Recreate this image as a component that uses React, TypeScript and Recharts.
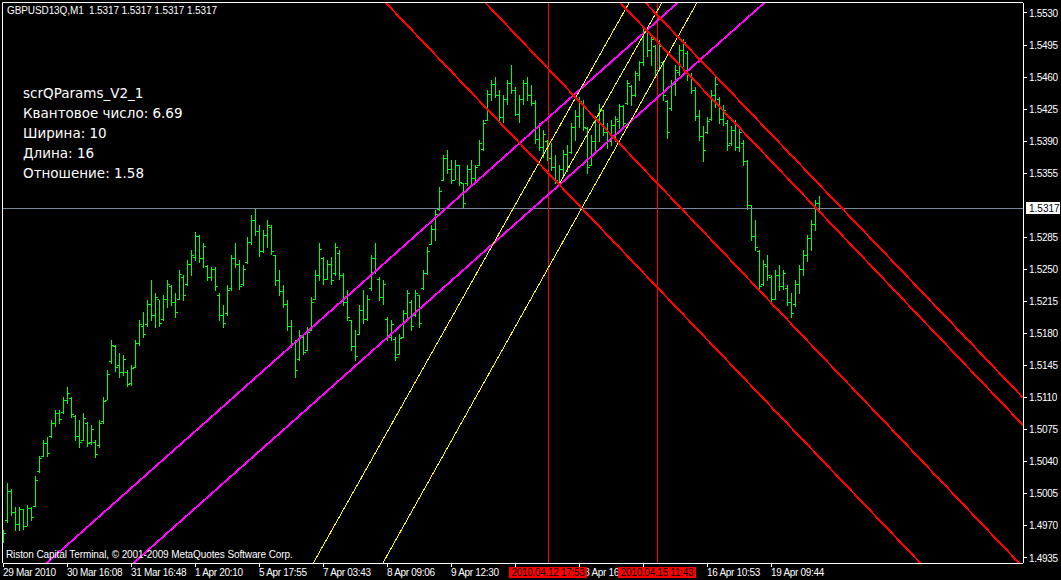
import { ComposedChart, Bar, XAxis, YAxis, ReferenceLine } from 'recharts';

// GBPUSD13Q M1 bars (index 0 = 29 Mar 2010)
const opens = [
  1.4955, 1.4976, 1.5008, 1.4985, 1.4972, 1.4988, 1.4970, 1.4990, 1.4992, 1.5030,
  1.5046, 1.5060, 1.5068, 1.5082, 1.5093, 1.5094, 1.5108, 1.5110, 1.5090, 1.5068,
  1.5064, 1.5082, 1.5062, 1.5062, 1.5058, 1.5084, 1.5108, 1.5150, 1.5166, 1.5146,
  1.5138, 1.5138, 1.5126, 1.5144, 1.5170, 1.5188, 1.5190, 1.5212, 1.5200, 1.5218,
  1.5196, 1.5218, 1.5232, 1.5214, 1.5218, 1.5242, 1.5234, 1.5256, 1.5264, 1.5286,
  1.5262, 1.5254, 1.5242, 1.5250, 1.5222, 1.5200, 1.5202, 1.5230, 1.5262, 1.5256,
  1.5234, 1.5258, 1.5280, 1.5304, 1.5292, 1.5270, 1.5288, 1.5296, 1.5266, 1.5238,
  1.5226, 1.5212, 1.5188, 1.5170, 1.5152, 1.5176, 1.5162, 1.5184, 1.5218, 1.5244,
  1.5262, 1.5240, 1.5256, 1.5246, 1.5268, 1.5244, 1.5215, 1.5195, 1.5166, 1.5180,
  1.5206, 1.5196, 1.5230, 1.5262, 1.5240, 1.5220, 1.5196, 1.5176, 1.5174, 1.5158,
  1.5176, 1.5202, 1.5215, 1.5200, 1.5222, 1.5230, 1.5246, 1.5278, 1.5294, 1.5316,
  1.5348, 1.5372, 1.5360, 1.5348, 1.5364, 1.5344, 1.5344, 1.5360, 1.5350, 1.5364,
  1.5382, 1.5413, 1.5442, 1.5452, 1.5440, 1.5416, 1.5436, 1.5454, 1.5446, 1.5420,
  1.5436, 1.5454, 1.5440, 1.5432, 1.5392, 1.5384, 1.5390, 1.5372, 1.5362, 1.5346,
  1.5360, 1.5376, 1.5378, 1.5406, 1.5418, 1.5432, 1.5404, 1.5364, 1.5390, 1.5414,
  1.5424, 1.5400, 1.5390, 1.5408, 1.5412, 1.5428, 1.5432, 1.5450, 1.5440, 1.5462,
  1.5476, 1.5510, 1.5490, 1.5494, 1.5468, 1.5476, 1.5434, 1.5426, 1.5452, 1.5466,
  1.5490, 1.5486, 1.5462, 1.5446, 1.5418, 1.5396, 1.5400, 1.5414, 1.5440, 1.5436,
  1.5414, 1.5410, 1.5388, 1.5402, 1.5384, 1.5388, 1.5368, 1.5320, 1.5286, 1.5270,
  1.5234, 1.5254, 1.5242, 1.5218, 1.5244, 1.5232, 1.5230, 1.5214, 1.5212, 1.5234,
  1.5250, 1.5266, 1.5284, 1.5300, 1.5322,
];

const highs = [
  1.4966, 1.5017, 1.5010, 1.4991, 1.4991, 1.4988, 1.4993, 1.4991, 1.5024, 1.5046,
  1.5064, 1.5067, 1.5086, 1.5097, 1.5097, 1.5111, 1.5122, 1.5111, 1.5091, 1.5086,
  1.5093, 1.5083, 1.5080, 1.5064, 1.5086, 1.5111, 1.5140, 1.5173, 1.5168, 1.5159,
  1.5157, 1.5140, 1.5146, 1.5173, 1.5195, 1.5203, 1.5217, 1.5239, 1.5224, 1.5217,
  1.5222, 1.5239, 1.5233, 1.5224, 1.5249, 1.5244, 1.5260, 1.5271, 1.5291, 1.5288,
  1.5279, 1.5255, 1.5253, 1.5253, 1.5224, 1.5211, 1.5233, 1.5266, 1.5279, 1.5260,
  1.5255, 1.5285, 1.5309, 1.5317, 1.5298, 1.5293, 1.5304, 1.5298, 1.5266, 1.5249,
  1.5233, 1.5217, 1.5195, 1.5173, 1.5184, 1.5179, 1.5187, 1.5220, 1.5249, 1.5279,
  1.5264, 1.5260, 1.5264, 1.5279, 1.5271, 1.5246, 1.5228, 1.5195, 1.5184, 1.5211,
  1.5228, 1.5222, 1.5266, 1.5279, 1.5242, 1.5239, 1.5198, 1.5195, 1.5176, 1.5179,
  1.5206, 1.5228, 1.5217, 1.5228, 1.5222, 1.5249, 1.5274, 1.5298, 1.5315, 1.5340,
  1.5375, 1.5380, 1.5369, 1.5369, 1.5364, 1.5344, 1.5364, 1.5369, 1.5364, 1.5391,
  1.5413, 1.5446, 1.5457, 1.5460, 1.5446, 1.5440, 1.5457, 1.5473, 1.5449, 1.5440,
  1.5457, 1.5460, 1.5451, 1.5435, 1.5410, 1.5402, 1.5391, 1.5388, 1.5375, 1.5364,
  1.5380, 1.5386, 1.5410, 1.5424, 1.5438, 1.5435, 1.5405, 1.5397, 1.5418, 1.5431,
  1.5424, 1.5410, 1.5413, 1.5418, 1.5431, 1.5429, 1.5457, 1.5451, 1.5467, 1.5478,
  1.5516, 1.5513, 1.5506, 1.5495, 1.5500, 1.5478, 1.5435, 1.5457, 1.5473, 1.5495,
  1.5502, 1.5489, 1.5464, 1.5449, 1.5424, 1.5407, 1.5416, 1.5446, 1.5460, 1.5438,
  1.5429, 1.5413, 1.5407, 1.5413, 1.5407, 1.5391, 1.5369, 1.5320, 1.5304, 1.5271,
  1.5260, 1.5266, 1.5244, 1.5249, 1.5255, 1.5249, 1.5233, 1.5224, 1.5239, 1.5255,
  1.5271, 1.5288, 1.5304, 1.5326, 1.5330,
];

const lows = [
  1.4953, 1.4974, 1.4982, 1.4966, 1.4966, 1.4966, 1.4971, 1.4977, 1.4991, 1.5028,
  1.5046, 1.5046, 1.5067, 1.5080, 1.5083, 1.5093, 1.5104, 1.5089, 1.5064, 1.5057,
  1.5064, 1.5057, 1.5059, 1.5045, 1.5057, 1.5083, 1.5108, 1.5148, 1.5140, 1.5133,
  1.5135, 1.5122, 1.5124, 1.5144, 1.5168, 1.5176, 1.5189, 1.5195, 1.5187, 1.5189,
  1.5195, 1.5209, 1.5211, 1.5198, 1.5217, 1.5217, 1.5233, 1.5244, 1.5260, 1.5258,
  1.5253, 1.5239, 1.5239, 1.5228, 1.5195, 1.5187, 1.5200, 1.5228, 1.5253, 1.5228,
  1.5233, 1.5257, 1.5277, 1.5288, 1.5264, 1.5269, 1.5274, 1.5266, 1.5233, 1.5222,
  1.5209, 1.5184, 1.5165, 1.5133, 1.5151, 1.5157, 1.5162, 1.5184, 1.5217, 1.5239,
  1.5235, 1.5239, 1.5235, 1.5244, 1.5239, 1.5211, 1.5195, 1.5162, 1.5151, 1.5179,
  1.5192, 1.5195, 1.5228, 1.5246, 1.5217, 1.5213, 1.5173, 1.5173, 1.5151, 1.5157,
  1.5176, 1.5195, 1.5184, 1.5200, 1.5187, 1.5228, 1.5244, 1.5277, 1.5282, 1.5315,
  1.5348, 1.5355, 1.5344, 1.5348, 1.5342, 1.5318, 1.5342, 1.5344, 1.5348, 1.5364,
  1.5380, 1.5413, 1.5435, 1.5438, 1.5413, 1.5410, 1.5431, 1.5442, 1.5418, 1.5410,
  1.5431, 1.5435, 1.5429, 1.5388, 1.5380, 1.5373, 1.5369, 1.5358, 1.5344, 1.5344,
  1.5351, 1.5358, 1.5377, 1.5391, 1.5405, 1.5402, 1.5355, 1.5364, 1.5380, 1.5391,
  1.5397, 1.5383, 1.5386, 1.5391, 1.5405, 1.5407, 1.5431, 1.5429, 1.5440, 1.5457,
  1.5473, 1.5484, 1.5473, 1.5462, 1.5467, 1.5435, 1.5394, 1.5424, 1.5440, 1.5462,
  1.5473, 1.5457, 1.5442, 1.5413, 1.5391, 1.5369, 1.5399, 1.5413, 1.5427, 1.5410,
  1.5407, 1.5380, 1.5386, 1.5380, 1.5380, 1.5364, 1.5315, 1.5282, 1.5271, 1.5228,
  1.5233, 1.5239, 1.5213, 1.5217, 1.5228, 1.5228, 1.5211, 1.5198, 1.5211, 1.5224,
  1.5244, 1.5260, 1.5271, 1.5293, 1.5313,
];

const closes = [
  1.4962, 1.5008, 1.4985, 1.4972, 1.4988, 1.4970, 1.4990, 1.4980, 1.5020, 1.5044,
  1.5060, 1.5050, 1.5082, 1.5093, 1.5087, 1.5108, 1.5115, 1.5092, 1.5068, 1.5062,
  1.5088, 1.5060, 1.5076, 1.5048, 1.5082, 1.5106, 1.5136, 1.5168, 1.5144, 1.5138,
  1.5152, 1.5125, 1.5142, 1.5170, 1.5190, 1.5180, 1.5212, 1.5200, 1.5220, 1.5192,
  1.5218, 1.5234, 1.5214, 1.5204, 1.5245, 1.5222, 1.5256, 1.5266, 1.5287, 1.5262,
  1.5276, 1.5242, 1.5250, 1.5232, 1.5200, 1.5192, 1.5228, 1.5262, 1.5256, 1.5232,
  1.5250, 1.5280, 1.5304, 1.5292, 1.5270, 1.5288, 1.5298, 1.5270, 1.5238, 1.5226,
  1.5212, 1.5188, 1.5170, 1.5140, 1.5178, 1.5160, 1.5182, 1.5215, 1.5244, 1.5272,
  1.5240, 1.5256, 1.5238, 1.5275, 1.5244, 1.5215, 1.5198, 1.5166, 1.5156, 1.5206,
  1.5196, 1.5218, 1.5262, 1.5250, 1.5220, 1.5234, 1.5176, 1.5190, 1.5154, 1.5175,
  1.5202, 1.5224, 1.5188, 1.5224, 1.5192, 1.5246, 1.5270, 1.5294, 1.5310, 1.5336,
  1.5372, 1.5360, 1.5348, 1.5364, 1.5346, 1.5322, 1.5360, 1.5350, 1.5362, 1.5388,
  1.5410, 1.5442, 1.5452, 1.5440, 1.5416, 1.5436, 1.5454, 1.5446, 1.5420, 1.5436,
  1.5454, 1.5440, 1.5432, 1.5392, 1.5384, 1.5398, 1.5372, 1.5362, 1.5348, 1.5360,
  1.5376, 1.5362, 1.5406, 1.5418, 1.5434, 1.5406, 1.5362, 1.5390, 1.5414, 1.5425,
  1.5400, 1.5390, 1.5408, 1.5414, 1.5428, 1.5410, 1.5454, 1.5440, 1.5464, 1.5476,
  1.5510, 1.5490, 1.5502, 1.5468, 1.5494, 1.5440, 1.5400, 1.5452, 1.5468, 1.5490,
  1.5498, 1.5462, 1.5446, 1.5418, 1.5396, 1.5380, 1.5412, 1.5440, 1.5452, 1.5414,
  1.5424, 1.5386, 1.5402, 1.5384, 1.5400, 1.5368, 1.5320, 1.5286, 1.5274, 1.5232,
  1.5256, 1.5244, 1.5218, 1.5244, 1.5232, 1.5246, 1.5214, 1.5202, 1.5234, 1.5250,
  1.5266, 1.5284, 1.5300, 1.5322, 1.5317,
];

const timeTicks = [0, 16, 32, 48, 64, 80, 96, 112, 128, 144, 160, 176, 192];
// labels under the two red date boxes are hidden in the terminal, so left blank
const timeLabels = [
  '29 Mar 2010', '30 Mar 16:08', '31 Mar 16:48', '1 Apr 20:10', '5 Apr 17:55',
  '7 Apr 03:43', '8 Apr 09:06', '9 Apr 12:30', '', '13 Apr 16:21',
  '', '16 Apr 10:53', '19 Apr 09:44',
];

const priceTicks = [
  1.4935, 1.497, 1.5005, 1.504, 1.5075, 1.511, 1.5145, 1.518, 1.5215,
  1.525, 1.5285, 1.5355, 1.539, 1.5425, 1.546, 1.5495, 1.553,
];

const lastPrice = 1.5317;

// trend lines as [bar1, price1, bar2, price2]
const redLines = [
  [0, 1.5979, 255, 1.4812],
  [0, 1.6094, 255, 1.4925],
  [0, 1.6248, 255, 1.508],
  [0, 1.6275, 255, 1.511],
];
const magentaLines = [
  [0, 1.4887, 255, 1.5876],
  [0, 1.4803, 255, 1.5792],
];
const yellowLines = [
  [77, 1.4925, 160, 1.5568],
  [94, 1.4922, 180, 1.5592],
  [139, 1.5343, 170, 1.5582],
];

const markerBars = [136.25, 163.5];
const markerLabels = ['2010.04.12 17:53', '2010.04.15 11:43'];

const infoLines = [
  'scrQParams_V2_1',
  'Квантовое число: 6.69',
  'Ширина: 10',
  'Длина: 16',
  'Отношение: 1.58',
];

const data = opens.map((o, i) => ({
  i,
  open: o,
  high: highs[i],
  low: lows[i],
  close: closes[i],
  range: [lows[i], highs[i]],
}));

const OhlcBar = (props: any) => {
  const { x, y, width, height, payload } = props;
  if (height == null || isNaN(y)) return null;
  const cx = Math.round(x + width / 2);
  const span = payload.high - payload.low || 1;
  const yOf = (p: number) => Math.round(y + ((payload.high - p) / span) * height);
  const top = Math.round(y);
  const h = Math.max(1, Math.round(height) + 1);
  return (
    <g fill="#00ff00">
      <rect x={cx} y={top} width={1} height={h} />
      <rect x={cx - 2} y={yOf(payload.open)} width={2} height={1} />
      <rect x={cx + 1} y={yOf(payload.close)} width={2} height={1} />
    </g>
  );
};

const TimeLabel = (props: any) => {
  const vb = props.viewBox || {};
  if (!props.text) return null;
  return (
    <text x={vb.x} y={vb.y + vb.height + 13} fill="#fff" fontSize={10} letterSpacing={-0.3} textAnchor="start">
      {props.text}
    </text>
  );
};

const MarkerLabel = (props: any) => {
  const vb = props.viewBox || {};
  const cx = vb.x;
  const bottom = vb.y + vb.height;
  return (
    <g>
      <rect x={cx - 39} y={bottom + 4} width={78} height={11} fill="#ff0000" />
      <text x={cx} y={bottom + 13} fill="#000" fontSize={10} letterSpacing={-0.3} textAnchor="middle">
        {props.text}
      </text>
    </g>
  );
};

const PriceLabel = (props: any) => {
  const vb = props.viewBox || {};
  const right = vb.x + vb.width;
  const y = vb.y;
  return (
    <g>
      <rect x={right + 3} y={y - 6} width={34} height={12} fill="#fff" />
      <text x={right + 6} y={y + 4} fill="#000" fontSize={10} textAnchor="start">
        {lastPrice.toFixed(4)}
      </text>
    </g>
  );
};

export default function App() {
  return (
    <div
      style={{
        position: 'absolute',
        left: 0,
        top: 0,
        width: 1061,
        height: 580,
        background: '#000',
        fontFamily: '"Liberation Sans", Arial, sans-serif',
        overflow: 'hidden',
      }}
    >
      <style>{'.mt4 svg line, .mt4 svg rect, .mt4 svg path { shape-rendering: crispEdges; }'}</style>
      <div className="mt4">
        <ComposedChart
          width={1061}
          height={580}
          data={data}
          margin={{ top: 3, right: 0, bottom: 0, left: 3 }}
        >
          <XAxis
            dataKey="i"
            type="number"
            domain={[0, 255]}
            ticks={timeTicks}
            interval={0}
            height={17}
            tickSize={4}
            tickMargin={2}
            axisLine={{ stroke: '#fff' }}
            tickLine={{ stroke: '#fff' }}
            tick={() => <g />}
            allowDataOverflow
          />
          <YAxis
            orientation="right"
            type="number"
            domain={[1.49295, 1.55409]}
            ticks={priceTicks}
            interval={0}
            width={38}
            tickSize={4}
            tickMargin={2}
            allowDataOverflow
            axisLine={{ stroke: '#fff' }}
            tickLine={{ stroke: '#fff' }}
            tick={{ fill: '#fff', fontSize: 10, letterSpacing: -0.3 }}
            tickFormatter={(v: number) => v.toFixed(4)}
          />
          <Bar
            dataKey="range"
            barSize={4}
            shape={<OhlcBar />}
            isAnimationActive={false}
          />
          {timeTicks.map((t, k) => (
            <ReferenceLine
              key={'t' + k}
              x={t}
              stroke="#000"
              strokeOpacity={0}
              label={<TimeLabel text={timeLabels[k]} />}
            />
          ))}
          <ReferenceLine
            y={lastPrice}
            stroke="#778899"
            strokeWidth={1}
            ifOverflow="visible"
            label={<PriceLabel />}
          />
          {markerBars.map((b, k) => (
            <ReferenceLine
              key={'m' + k}
              x={b}
              stroke="#ff0000"
              strokeWidth={1}
              label={<MarkerLabel text={markerLabels[k]} />}
            />
          ))}
          {magentaLines.map((l, k) => (
            <ReferenceLine
              key={'g' + k}
              segment={[{ x: l[0], y: l[1] }, { x: l[2], y: l[3] }]}
              stroke="#ff00ff"
              strokeWidth={2}
              ifOverflow="hidden"
            />
          ))}
          {yellowLines.map((l, k) => (
            <ReferenceLine
              key={'y' + k}
              segment={[{ x: l[0], y: l[1] }, { x: l[2], y: l[3] }]}
              stroke="#ffff00"
              strokeWidth={1}
              ifOverflow="hidden"
            />
          ))}
          {redLines.map((l, k) => (
            <ReferenceLine
              key={'r' + k}
              segment={[{ x: l[0], y: l[1] }, { x: l[2], y: l[3] }]}
              stroke="#ff0000"
              strokeWidth={2}
              ifOverflow="hidden"
            />
          ))}
        </ComposedChart>
      </div>
      <svg
        width={1061}
        height={580}
        style={{ position: 'absolute', left: 0, top: 0, pointerEvents: 'none' }}
      >
        <line x1={2.5} y1={2.5} x2={1023} y2={2.5} stroke="#fff" />
        <line x1={2.5} y1={2.5} x2={2.5} y2={563} stroke="#fff" />
        <text x={7} y={14} fill="#fff" fontSize={10} letterSpacing={-0.1} style={{ whiteSpace: 'pre' }}>
          {'GBPUSD13Q,M1  1.5317 1.5317 1.5317 1.5317'}
        </text>
        {infoLines.map((t, k) => (
          <text key={k} x={23} y={98 + k * 20} fill="#fff" fontSize={13.5} fontFamily='"DejaVu Sans", sans-serif'>
            {t}
          </text>
        ))}
        <text x={6} y={558} fill="#fff" fontSize={10} letterSpacing={-0.1}>
          Riston Capital Terminal, © 2001-2009 MetaQuotes Software Corp.
        </text>
      </svg>
    </div>
  );
}
